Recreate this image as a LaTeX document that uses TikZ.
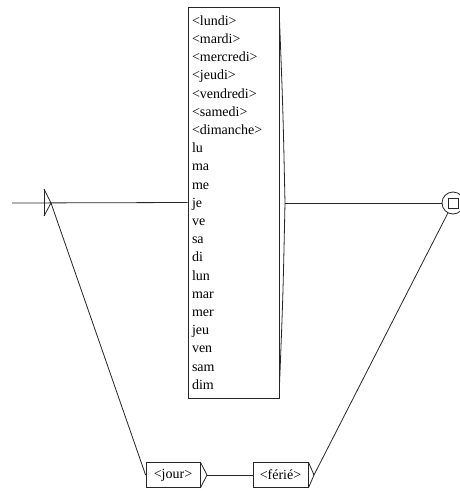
\documentclass[tikz,border=0pt]{standalone}
\usepackage{fontspec}
\setmainfont{Liberation Serif}
\begin{document}
\begin{tikzpicture}[x=1pt,y=-1pt,
  wire/.style={line width=0.8pt, draw=black!85},
  ubox/.style={draw=black!85, line width=0.8pt, inner sep=0pt, font=\fontsize{14}{16}\selectfont},
]
\useasboundingbox (0,0) rectangle (460,491);
\node[ubox, minimum width=91pt, minimum height=391pt, text width=83pt, align=left,
      font=\fontsize{14}{18.2}\selectfont] (big) at (233.5,202.5)
 {<lundi>\\<mardi>\\<mercredi>\\<jeudi>\\<vendredi>\\<samedi>\\<dimanche>\\lu\\ma\\me\\je\\ve\\sa\\di\\lun\\mar\\mer\\jeu\\ven\\sam\\dim};
\draw[wire] (279.5,20) .. controls (283,110) .. (285,203) .. controls (283,296) .. (279.5,385);
\coordinate (bigout) at (285,203);
\coordinate (start) at (12,203);
\coordinate (init) at (51,203);
\draw[wire] (44,189) -- (44,216);
\draw[wire] (44,189) -- (init) -- (44,216);
\draw[wire] (start) -- (big.west);
\node[circle, wire, draw, minimum size=22pt, inner sep=0pt] (fin) at (453,203) {};
\node[wire, draw, minimum size=10pt, inner sep=0pt] (finsq) at (fin) {};
\draw[wire] (bigout) -- (fin);
\node[ubox, minimum width=54pt, minimum height=25pt] (jour) at (173,475) {<jour>};
\coordinate (jourout) at (207,475);
\draw[wire] (jour.north east) -- (jourout) -- (jour.south east);
\node[ubox, minimum width=55pt, minimum height=25pt] (feri) at (280.5,475) {<férié>};
\coordinate (feriout) at (314,475);
\draw[wire] (feri.north east) -- (feriout) -- (feri.south east);
\draw[wire] (init) -- (jour.west);
\draw[wire] (jourout) -- (feri.west);
\draw[wire] (feriout) -- (fin);
\end{tikzpicture}
\end{document}
